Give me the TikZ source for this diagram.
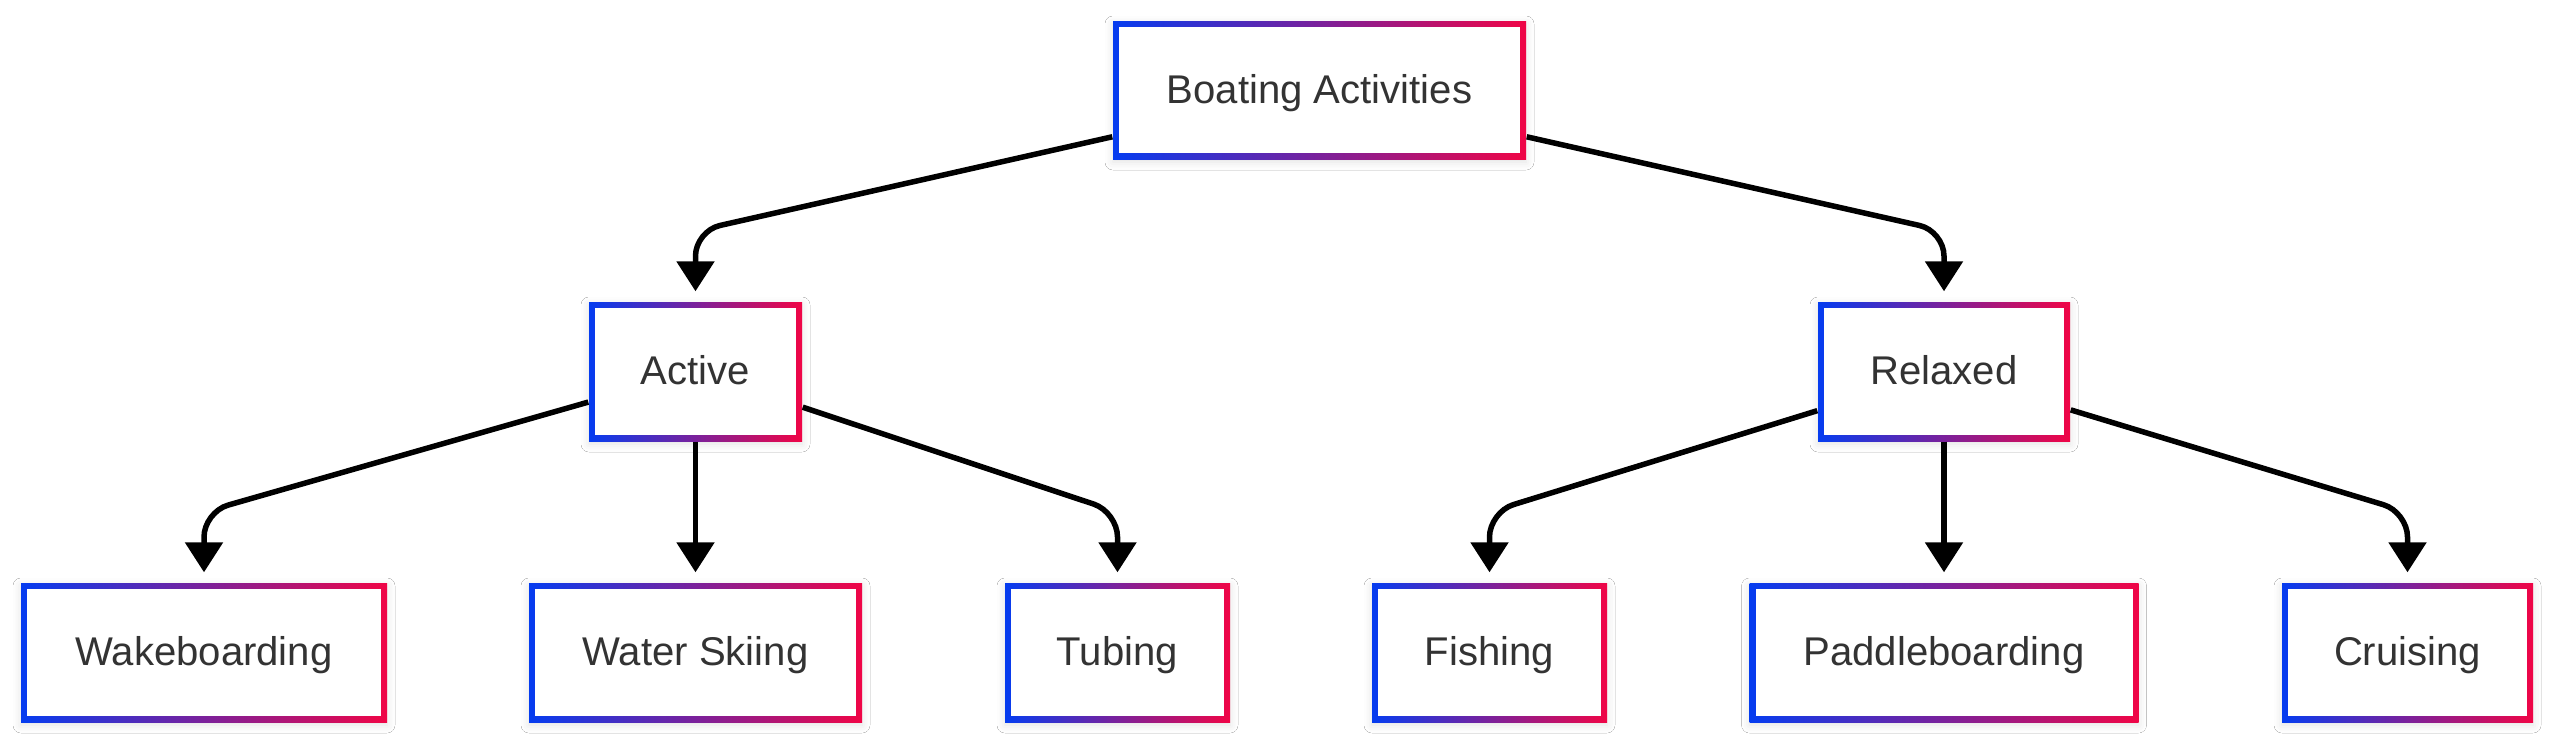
\documentclass[tikz,border=0pt]{standalone}
\usepackage{fontspec}
\setmainfont{Liberation Sans}
\usetikzlibrary{arrows.meta,shadows.blur}
\newlength{\du}
\setlength{\du}{0.01cm}
\definecolor{boxblue}{RGB}{5,60,240}
\definecolor{boxred}{RGB}{240,5,70}
\definecolor{textgray}{RGB}{51,51,51}

\begin{document}
\begin{tikzpicture}[x=\du,y=-\du,
  box/.style={rectangle,inner sep=0pt,minimum height=139\du,
    text height=29\du,text depth=3\du,
    left color=boxblue,right color=boxred,
    blur shadow={shadow xshift=0pt,shadow yshift=-3\du,shadow opacity=12,shadow blur radius=8\du},
    path picture={\fill[white] ([shift={(6\du,-6\du)}]path picture bounding box.north west)
      rectangle ([shift={(-6\du,6\du)}]path picture bounding box.south east);},
    font=\fontsize{11.4pt}{13pt}\selectfont,text=textgray},
  flow/.style={line width=5.5\du,rounded corners=25\du,shorten >=10\du,
    -{Triangle[length=0.3cm,width=0.37cm]}}]
\fill[white] (0,0) rectangle (2560,745);
\useasboundingbox (0,0) rectangle (2560,745);
% rows of bends
\coordinate (row1) at (0,231);
\coordinate (row2) at (0,512);
% top
\node[box,minimum height=138\du,minimum width=413\du] (root) at (1319.5,90) {Boating Activities};
% middle
\node[box,minimum width=213\du] (act) at (695.5,371.5) {Active};
\node[box,minimum width=252\du] (rel) at (1944,371.5) {Relaxed};
% bottom
\node[box,minimum width=366\du] (wake) at (204,652.5) {Wakeboarding};
\node[box,minimum width=333\du] (ski) at (695.5,652.5) {Water Skiing};
\node[box,minimum width=225\du] (tub) at (1117.5,652.5) {Tubing};
\node[box,minimum width=235\du] (fish) at (1489.5,652.5) {Fishing};
\node[box,minimum width=389\du] (pad) at (1944,652.5) {Paddleboarding};
\node[box,minimum width=251\du] (cruise) at (2407.5,652.5) {Cruising};
% edges
\draw[flow] (root) -- (act |- row1) -- (act);
\draw[flow] (root) -- (rel |- row1) -- (rel);
\draw[flow] (act) -- (wake |- row2) -- (wake);
\draw[flow] (act) -- (ski);
\draw[flow] (act) -- (tub |- row2) -- (tub);
\draw[flow] (rel) -- (fish |- row2) -- (fish);
\draw[flow] (rel) -- (pad);
\draw[flow] (rel) -- (cruise |- row2) -- (cruise);
\end{tikzpicture}
\end{document}
